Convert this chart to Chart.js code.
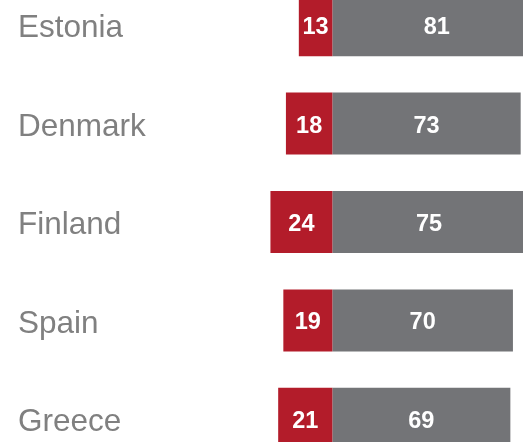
<!DOCTYPE html>
<html><head><meta charset="utf-8">
<script src="https://cdn.jsdelivr.net/npm/chart.js@4"></script>
<style>
html,body{margin:0;padding:0;background:#fff;overflow:hidden}
#wrap{position:relative;width:523px;height:442px;overflow:hidden}
#c{position:absolute;left:0;top:-24px;width:523px;height:492px}
</style></head><body>
<div id="wrap"><canvas id="c" width="523" height="492"></canvas></div>
<script>
const categories = ['Estonia', 'Denmark', 'Finland', 'Spain', 'Greece'];
const redValues = [13, 18, 24, 19, 21];
const grayValues = [81, 73, 75, 70, 69];

const barLabels = {
  id: 'barLabels',
  afterDatasetsDraw(chart) {
    const ctx = chart.ctx;
    ctx.save();
    ctx.font = 'bold 23.5px "Liberation Sans", Arial, sans-serif';
    ctx.fillStyle = '#ffffff';
    ctx.textAlign = 'center';
    ctx.textBaseline = 'middle';
    chart.data.datasets.forEach((ds, i) => {
      chart.getDatasetMeta(i).data.forEach((bar, j) => {
        const v = Math.abs(ds.data[j]);
        ctx.fillText(String(v), (bar.x + bar.base) / 2, bar.y + 2.5);
      });
    });
    ctx.restore();
  }
};

new Chart(document.getElementById('c'), {
  type: 'bar',
  data: {
    labels: categories,
    datasets: [
      { data: redValues.map(v => -v), backgroundColor: '#B31C2A', borderWidth: 0, barPercentage: 0.63, categoryPercentage: 1 },
      { data: grayValues, backgroundColor: '#737477', borderWidth: 0, barPercentage: 0.63, categoryPercentage: 1 }
    ]
  },
  options: {
    indexAxis: 'y',
    responsive: false,
    animation: false,
    layout: { padding: { left: 18, right: 0, top: 0, bottom: 0 } },
    plugins: { legend: { display: false }, tooltip: { enabled: false } },
    scales: {
      x: { stacked: true, display: false, min: -32.7, max: 73.9 },
      y: {
        stacked: true,
        grid: { display: false },
        border: { display: false },
        ticks: {
          crossAlign: 'far', padding: 0, autoSkip: false, labelOffset: 3.5,
          color: '#808080',
          font: { family: '"Liberation Sans", Arial, sans-serif', size: 31.5 }
        },
        afterFit(s) { s.width = 230; s.paddingTop = 0; s.paddingBottom = 0; }
      }
    }
  },
  plugins: [barLabels]
});
</script>
</body></html>
